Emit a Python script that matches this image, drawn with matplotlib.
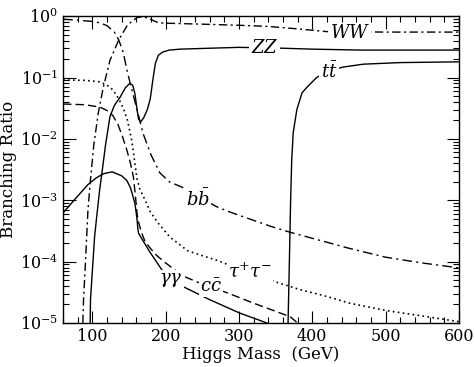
import matplotlib
matplotlib.use('Agg')
import matplotlib.pyplot as plt
from matplotlib.ticker import LogLocator, MultipleLocator, NullFormatter

plt.rcParams['font.family'] = 'DejaVu Serif'
plt.rcParams['mathtext.fontset'] = 'dejavuserif'

# branching ratios
bb_m = [60, 80, 100, 110, 120, 130, 136, 142, 148, 155, 161, 169, 180, 192, 205, 224, 250, 270, 288, 320, 345, 370, 400, 450, 500, 550, 600]
bb_br = [0.89, 0.86, 0.82, 0.78, 0.70, 0.55, 0.41, 0.26, 0.12, 0.056, 0.03, 0.0124, 0.0055, 0.0028, 0.002, 0.0016,
         0.00105, 0.00078, 0.00064, 0.00047, 0.00037, 0.0003, 0.00024, 0.000165, 0.000118, 0.000095, 0.000079]

ww_m = [87, 88, 90, 94, 97, 102, 108, 115, 124, 136, 148, 161, 170, 180, 188, 196, 250, 300, 340, 380, 420, 500, 600]
ww_br = [1e-5, 2.5e-5, 7e-5, 7e-4, 1.9e-3, 8e-3, 0.026, 0.07, 0.19, 0.41, 0.72, 0.95, 0.98, 0.88, 0.80, 0.77,
         0.74, 0.71, 0.68, 0.62, 0.56, 0.55, 0.55]

zz_m = [97, 97.5, 98, 101, 103, 106, 110, 113, 118, 124, 130, 138, 145, 151, 155, 158, 161, 163, 166, 170, 175,
        179, 183, 186, 190, 196, 205, 220, 260, 300, 360, 400, 465, 600]
zz_br = [1e-5, 2.5e-5, 3e-5, 1.07e-4, 2.5e-4, 5.5e-4, 1.5e-3, 2.75e-3, 8e-3, 0.023, 0.035, 0.048, 0.068, 0.08, 0.075,
         0.055, 0.03, 0.021, 0.019, 0.022, 0.03, 0.045, 0.1, 0.17, 0.23, 0.26, 0.28, 0.29, 0.30, 0.31, 0.30, 0.29,
         0.28, 0.28]

tt_m = [367, 369, 370.5, 372, 374, 379, 386, 393, 406, 420, 442, 470, 520, 600]
tt_br = [1e-5, 1.3e-4, 1e-3, 4.5e-3, 0.0125, 0.03, 0.056, 0.07, 0.10, 0.125, 0.148, 0.165, 0.175, 0.18]

gg_m = [60, 75, 94, 105, 115, 127, 140, 147, 152, 155, 158, 160, 161, 162, 163, 168, 179, 195, 224, 260, 301, 320, 338]
gg_br = [6.2e-4, 1.0e-3, 1.8e-3, 2.3e-3, 2.7e-3, 2.9e-3, 2.5e-3, 2.1e-3, 1.6e-3, 1.2e-3, 8.9e-4, 6e-4, 4.8e-4,
         3.5e-4, 2.9e-4, 2.3e-4, 1.4e-4, 7.3e-5, 3.9e-5, 2.4e-5, 1.45e-5, 1.2e-5, 1e-5]

cc_m = [60, 90, 110, 120, 128, 135, 141, 147, 152, 156, 159, 161, 163, 167, 172, 180, 188, 200, 224, 250, 284, 320,
        350, 370, 380]
cc_br = [0.037, 0.036, 0.033, 0.029, 0.024, 0.017, 0.011, 6.6e-3, 4e-3, 2.4e-3, 1.1e-3, 6e-4, 4.4e-4, 3e-4, 2.1e-4,
         1.6e-4, 1.25e-4, 9.5e-5, 5.8e-5, 4.3e-5, 3.1e-5, 2.1e-5, 1.55e-5, 1.26e-5, 1.0e-5]

tau_m = [60, 90, 110, 120, 128, 136, 142, 148, 154, 158, 161, 165, 172, 179, 190, 206, 230, 250, 270, 292, 320, 342,
         383, 420, 451, 500, 550, 600]
tau_br = [0.091, 0.09, 0.085, 0.075, 0.063, 0.045, 0.032, 0.02, 0.009, 4e-3, 2.2e-3, 1.5e-3, 1.0e-3, 6.5e-4, 4.2e-4,
          2.5e-4, 1.5e-4, 1.25e-4, 1.05e-4, 8.3e-5, 6.3e-5, 5e-5, 3.5e-5, 2.7e-5, 2.1e-5, 1.6e-5, 1.3e-5, 1.05e-5]

fig = plt.figure(figsize=(4.74, 3.67), dpi=100)
ax = fig.add_axes([0.133, 0.12, 0.835, 0.836])

lw = 1.0
ax.plot(bb_m, bb_br, color='black', lw=lw, dashes=[7, 3, 1.5, 3])
ax.plot(ww_m, ww_br, color='black', lw=lw, dashes=[6, 2.5, 1.5, 2.5])
ax.plot(zz_m, zz_br, color='black', lw=lw)
ax.plot(tt_m, tt_br, color='black', lw=lw)
ax.plot(gg_m, gg_br, color='black', lw=lw)
ax.plot(cc_m, cc_br, color='black', lw=lw, dashes=[6, 3])
ax.plot(tau_m, tau_br, color='black', lw=1.2, dashes=[1, 2])

box = dict(facecolor='white', edgecolor='none', pad=1)
ax.text(451, 0.53, '$WW$', fontsize=13, ha='center', va='center', bbox=box)
ax.text(335, 0.30, '$ZZ$', fontsize=13, ha='center', va='center', bbox=box)
ax.text(423, 0.123, r'$t\bar{t}$', fontsize=13, ha='center', va='center', bbox=box)
ax.text(244, 1.05e-3, r'$b\bar{b}$', fontsize=13, ha='center', va='center', bbox=box)
ax.text(315, 6.8e-5, r'$\tau^{+}\tau^{-}$', fontsize=13, ha='center', va='center', bbox=box)
ax.text(262, 3.9e-5, r'$c\bar{c}$', fontsize=13, ha='center', va='center', bbox=box)
ax.text(207, 5e-5, r'$\gamma\gamma$', fontsize=13, ha='center', va='center', bbox=box)

ax.set_yscale('log')
ax.set_xlim(60, 600)
ax.set_ylim(1e-5, 1)
ax.xaxis.set_major_locator(MultipleLocator(100))
ax.xaxis.set_minor_locator(MultipleLocator(20))
ax.yaxis.set_major_locator(LogLocator(base=10, numticks=10))
ax.yaxis.set_minor_locator(LogLocator(base=10, subs=range(2, 10), numticks=20))
ax.yaxis.set_minor_formatter(NullFormatter())
ax.tick_params(which='both', direction='in', top=True, right=True, labelsize=11.5)
ax.tick_params(which='major', length=9, width=0.8)
ax.tick_params(which='minor', length=4.5, width=0.8)
ax.tick_params(axis='x', which='major', length=9)
for s in ax.spines.values():
    s.set_linewidth(1.0)

ax.set_xlabel('Higgs Mass  (GeV)', fontsize=12, labelpad=1)
ax.set_ylabel('Branching Ratio', fontsize=12, labelpad=2)

fig.savefig('out.png', dpi=100)
